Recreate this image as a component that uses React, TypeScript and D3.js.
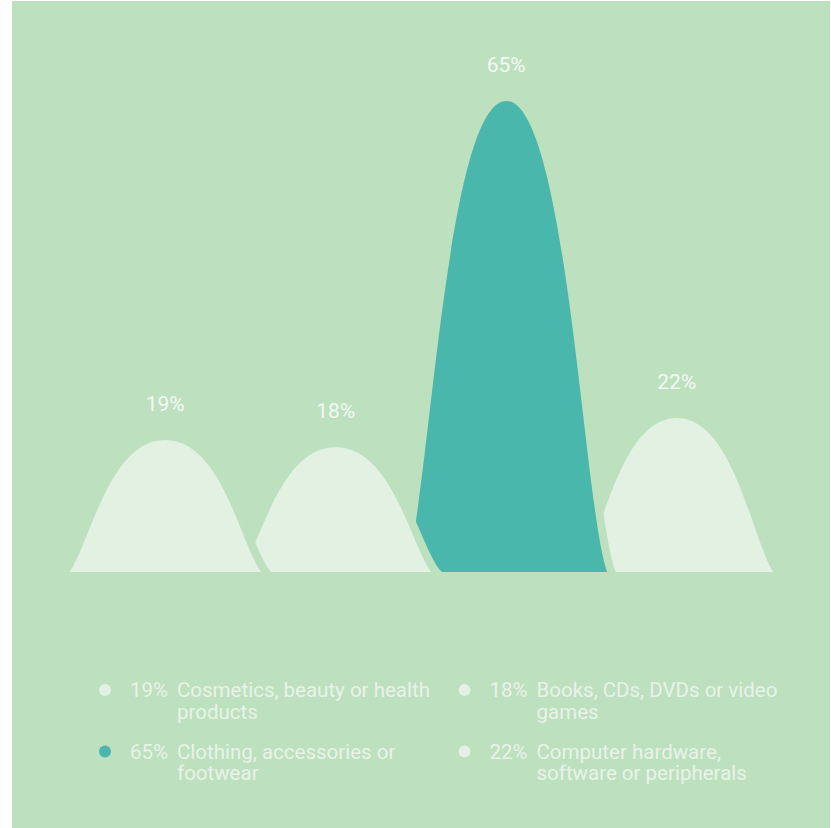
import React from "react";
import * as d3 from "d3";

// ---- data ----
const categories = [
  "Cosmetics, beauty or health products",
  "Books, CDs, DVDs or video games",
  "Clothing, accessories or footwear",
  "Computer hardware, software or peripherals",
];
const values = [19, 18, 65, 22];
const legendLines = [
  ["Cosmetics, beauty or health", "products"],
  ["Books, CDs, DVDs or video", "games"],
  ["Clothing, accessories or", "footwear"],
  ["Computer hardware,", "software or peripherals"],
];
const highlightIndex = 2;

// ---- style ----
const W = 831;
const H = 828;
const BG = "#bde0bf";
const LIGHT = "#e3f1e3";
const TEAL = "#4ab7ac";
const TEXT = "#f3f9f2";
const LEGEND_TEXT = "#e8f3e7";
const FONT = "Roboto, 'Open Sans', sans-serif";

const baseY = 572;
const halfW = 107;
const ka = 0.254;
const kb = 0.614;

export default function App() {
  const x = d3
    .scaleBand<number>()
    .domain(d3.range(values.length))
    .range([80, 762])
    .padding(0);
  const y = d3.scaleLinear().domain([0, 65]).range([580, 101]);

  const shapePath = (i: number) => {
    const cx = (x(i) as number) + x.bandwidth() / 2;
    const top = y(values[i]);
    const b = y(0);
    const p = d3.path();
    p.moveTo(cx - halfW, b);
    p.bezierCurveTo(cx - halfW + ka * halfW, b, cx - kb * halfW, top, cx, top);
    p.bezierCurveTo(cx + kb * halfW, top, cx + halfW - ka * halfW, b, cx + halfW, b);
    p.closePath();
    return p.toString();
  };

  const order = d3.range(values.length).reverse();

  const legCol = [0, 359.5];
  const legRow = [0, 61.5];

  return (
    <svg
      width={W}
      height={H}
      style={{ position: "absolute", left: 0, top: 0 }}
      fontFamily={FONT}
    >
      <defs>
        <clipPath id="plotClip">
          <rect x={0} y={0} width={W} height={baseY} />
        </clipPath>
      </defs>
      <rect x={12} y={1} width={818} height={827} fill={BG} />
      <g clipPath="url(#plotClip)">
        {order.map((i) => (
          <path
            key={"s" + i}
            d={shapePath(i)}
            fill={i === highlightIndex ? TEAL : LIGHT}
            stroke={BG}
            strokeWidth={16}
            strokeLinejoin="round"
            style={{ paintOrder: "stroke" }}
          />
        ))}
      </g>
      {values.map((v, i) => (
        <text
          key={"l" + i}
          x={(x(i) as number) + x.bandwidth() / 2}
          y={y(v) - 29}
          textAnchor="middle"
          fontSize={21}
          fontWeight={400}
          fill={TEXT}
        >
          {v}%
        </text>
      ))}
      {values.map((v, i) => {
        const ox = legCol[i % 2];
        const oy = legRow[Math.floor(i / 2)];
        return (
          <g key={"g" + i} transform={`translate(${ox},${oy})`}>
            <circle cx={105} cy={690} r={6} fill={i === highlightIndex ? TEAL : LIGHT} />
            <text x={130} y={697} fontSize={20.5} fontWeight={400} fill={LEGEND_TEXT}>
              {v}%
            </text>
            {legendLines[i].map((line, j) => (
              <text
                key={j}
                x={177}
                y={697 + j * 21.6}
                fontSize={20.5}
                fontWeight={400}
                fill={LEGEND_TEXT}
              >
                {line}
              </text>
            ))}
          </g>
        );
      })}
    </svg>
  );
}
